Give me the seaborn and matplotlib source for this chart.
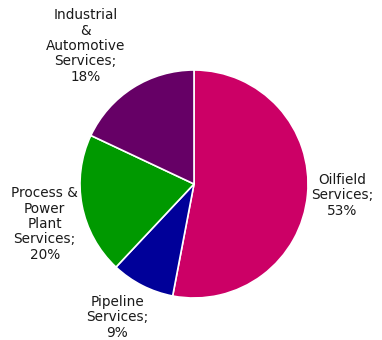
import matplotlib
matplotlib.use("Agg")
import matplotlib.pyplot as plt
import seaborn as sns

sns.set_style("white")
plt.rcParams["font.family"] = ["DejaVu Sans"]

# Revenue share by business segment
segments = ["Oilfield\nServices", "Pipeline\nServices", "Process &\nPower\nPlant\nServices",
            "Industrial\n&\nAutomotive\nServices"]
shares = [53, 9, 20, 18]
colors = ["#CC0066", "#000099", "#009900", "#660066"]

# label anchor points (axes data units, pie radius = 1)
label_xy = [(1.30, -0.10), (-0.675, -1.17), (-1.31, -0.35), (-0.95, 1.21)]

fig = plt.figure(figsize=(3.82, 3.40), dpi=100)
cx, cy, r = 194, 340 - 184, 114
ax = fig.add_axes([(cx - r) / 382, (cy - r) / 340, 2 * r / 382, 2 * r / 340])

wedges, _ = ax.pie(shares, colors=colors, startangle=90, counterclock=False,
                   radius=1, wedgeprops=dict(edgecolor="white", linewidth=1.2))
ax.set_xlim(-1, 1)
ax.set_ylim(-1, 1)
ax.set_aspect("equal")
ax.axis("off")

for name, val, (x, y) in zip(segments, shares, label_xy):
    ax.text(x, y, f"{name};\n{val}%", ha="center", va="center", fontsize=9.8,
            color="#1a1a1a", linespacing=1.12, clip_on=False)

fig.savefig("out.png", dpi=100)
